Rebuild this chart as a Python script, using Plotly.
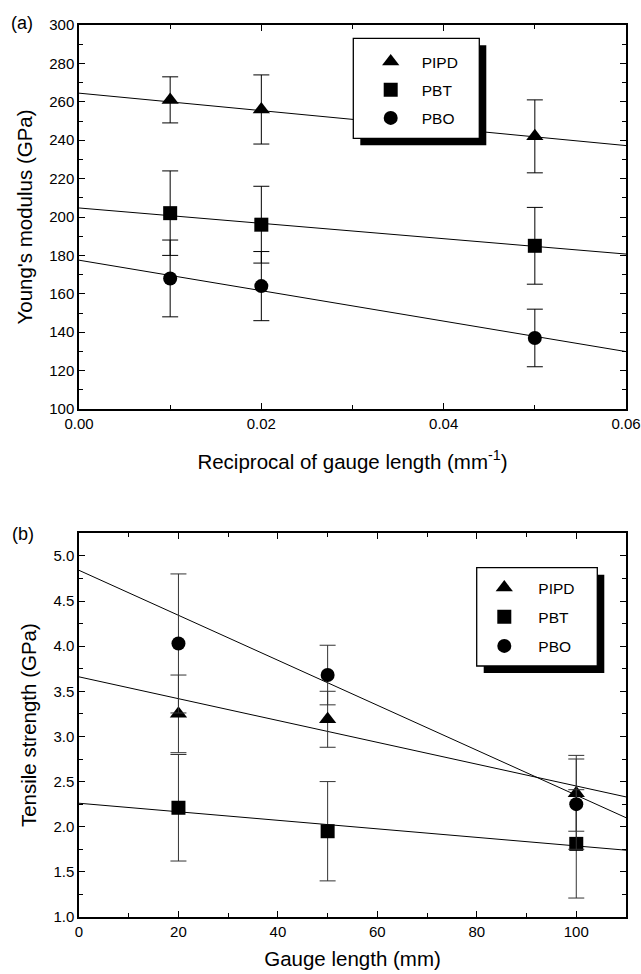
import plotly.graph_objects as go

W, H = 641, 974
FONT = "Liberation Sans, Arial, Helvetica, sans-serif"

# ---------------- data: panel (a) ----------------
a_x = [0.01, 0.02, 0.05]
a_pipd = [261, 256, 242]
a_pipd_err = [12, 18, 19]
a_pbt = [202, 196, 185]
a_pbt_err = [22, 20, 20]
a_pbo = [168, 164, 137]
a_pbo_err = [20, 18, 15]

a_fit_x = [0.0, 0.06]
a_fit_pipd = [264.5, 237.2]
a_fit_pbt = [204.7, 180.7]
a_fit_pbo = [177.5, 129.9]

# ---------------- data: panel (b) ----------------
b_x = [20, 50, 100]
b_pipd = [3.25, 3.19, 2.37]
b_pipd_err = [0.43, 0.31, 0.42]
b_pbt = [2.21, 1.95, 1.81]
b_pbt_err = [0.59, 0.55, 0.60]
b_pbo = [4.03, 3.68, 2.25]
b_pbo_err = [0.77, 0.33, 0.50]

b_fit_x = [0, 110]
b_fit_pipd = [3.66, 2.33]
b_fit_pbt = [2.26, 1.74]
b_fit_pbo = [4.84, 2.10]

series_names = ["PIPD", "PBT", "PBO"]
symbols = ["triangle-up", "square", "circle"]
sizes = [15, 14, 14]

fig = go.Figure()

# fit lines
for ys in [a_fit_pipd, a_fit_pbt, a_fit_pbo]:
    fig.add_trace(go.Scatter(x=a_fit_x, y=ys, mode="lines", line=dict(color="black", width=1),
                             showlegend=False, hoverinfo="skip", xaxis="x", yaxis="y"))
for ys in [b_fit_pipd, b_fit_pbt, b_fit_pbo]:
    fig.add_trace(go.Scatter(x=b_fit_x, y=ys, mode="lines", line=dict(color="black", width=1),
                             showlegend=False, hoverinfo="skip", xaxis="x2", yaxis="y2"))

# markers with error bars
a_sets = [(a_pipd, a_pipd_err), (a_pbt, a_pbt_err), (a_pbo, a_pbo_err)]
b_sets = [(b_pipd, b_pipd_err), (b_pbt, b_pbt_err), (b_pbo, b_pbo_err)]
for i, (ys, es) in enumerate(a_sets):
    fig.add_trace(go.Scatter(
        x=a_x, y=ys, mode="markers", name=series_names[i],
        marker=dict(symbol=symbols[i], size=sizes[i], color="black", line=dict(width=0)),
        error_y=dict(type="data", array=es, visible=True, color="black", thickness=1, width=8),
        xaxis="x", yaxis="y", legend="legend", legendgroup="a" + str(i)))
for i, (ys, es) in enumerate(b_sets):
    fig.add_trace(go.Scatter(
        x=b_x, y=ys, mode="markers", name=series_names[i],
        marker=dict(symbol=symbols[i], size=sizes[i], color="black", line=dict(width=0)),
        error_y=dict(type="data", array=es, visible=True, color="#333333", thickness=1, width=8),
        xaxis="x2", yaxis="y2", legend="legend2", legendgroup="b" + str(i)))


def px_x(p):
    return p / W


def px_y(p):
    return 1 - p / H


tickfont = dict(family=FONT, size=15, color="black")
titlefont = dict(family=FONT, size=20.5, color="black")

axis_common = dict(showline=True, linecolor="black", linewidth=1.5, mirror="ticks",
                   ticks="inside", ticklen=6, tickwidth=1.2, tickcolor="black",
                   showgrid=False, zeroline=False, tickfont=tickfont, automargin=False)

xd = [px_x(79), px_x(626)]
fig.update_layout(
    width=W, height=H,
    margin=dict(l=0, r=0, t=0, b=0),
    paper_bgcolor="white", plot_bgcolor="white",
    font=dict(family=FONT, color="black"),
    xaxis=dict(domain=xd, range=[0, 0.06], dtick=0.02, tickformat=".2f", anchor="y",
               minor=dict(ticks="inside", ticklen=4, tickwidth=1.2, tickcolor="black", dtick=0.01),
               title=dict(text="Reciprocal of gauge length (mm<sup>-1</sup>)", font=titlefont, standoff=24),
               **axis_common),
    yaxis=dict(domain=[px_y(409), px_y(25)], range=[100, 300], dtick=20, anchor="x",
               minor=dict(ticks="inside", ticklen=4, tickwidth=1.2, tickcolor="black", dtick=10),
               title=dict(text="Young's modulus (GPa)", font=titlefont, standoff=11),
               **axis_common),
    xaxis2=dict(domain=xd, range=[0, 110], dtick=20, anchor="y2",
                minor=dict(ticks="inside", ticklen=4, tickwidth=1.2, tickcolor="black", dtick=10),
                title=dict(text="Gauge length (mm)", font=titlefont, standoff=13),
                **axis_common),
    yaxis2=dict(domain=[px_y(917), px_y(533.3)], range=[1.0, 5.25], dtick=0.5, tickformat=".1f", anchor="x2",
                minor=dict(ticks="inside", ticklen=4, tickwidth=1.2, tickcolor="black", dtick=0.25),
                title=dict(text="Tensile strength (GPa)", font=titlefont, standoff=11),
                **axis_common),
    legend=dict(x=px_x(359.7), y=px_y(45), xanchor="left", yanchor="top",
                bgcolor="rgba(0,0,0,0)", borderwidth=0, itemwidth=52, tracegroupgap=5,
                font=dict(family=FONT, size=15.5, color="black")),
    legend2=dict(x=px_x(470.3), y=px_y(571), xanchor="left", yanchor="top",
                 bgcolor="rgba(0,0,0,0)", borderwidth=0, itemwidth=58, tracegroupgap=6,
                 font=dict(family=FONT, size=15.5, color="black")),
)

# legend boxes with drop shadows
shapes = []
for (l, t, r, b) in [(353.3, 38.3, 479.3, 138.3), (476.7, 567.7, 597.3, 666.0)]:
    off = 7
    shapes.append(dict(type="rect", xref="paper", yref="paper", layer="above",
                       x0=px_x(l + off), x1=px_x(r + off), y0=px_y(b + off), y1=px_y(t + off),
                       fillcolor="black", line=dict(width=0)))
    shapes.append(dict(type="rect", xref="paper", yref="paper", layer="above",
                       x0=px_x(l), x1=px_x(r), y0=px_y(b), y1=px_y(t),
                       fillcolor="white", line=dict(color="black", width=1.3)))
fig.update_layout(shapes=shapes)

fig.add_annotation(text="(a)", x=px_x(9), y=px_y(23), xref="paper", yref="paper",
                   xanchor="left", yanchor="middle", showarrow=False,
                   font=dict(family=FONT, size=18, color="black"))
fig.add_annotation(text="(b)", x=px_x(10), y=px_y(534), xref="paper", yref="paper",
                   xanchor="left", yanchor="middle", showarrow=False,
                   font=dict(family=FONT, size=18, color="black"))

# remove the default 8px page margin so the 641x974 figure fills the window exactly
fig.write_html("out.html",
               config={"displayModeBar": False},
               post_script="document.body.style.margin='0';document.body.style.overflow='hidden';")
